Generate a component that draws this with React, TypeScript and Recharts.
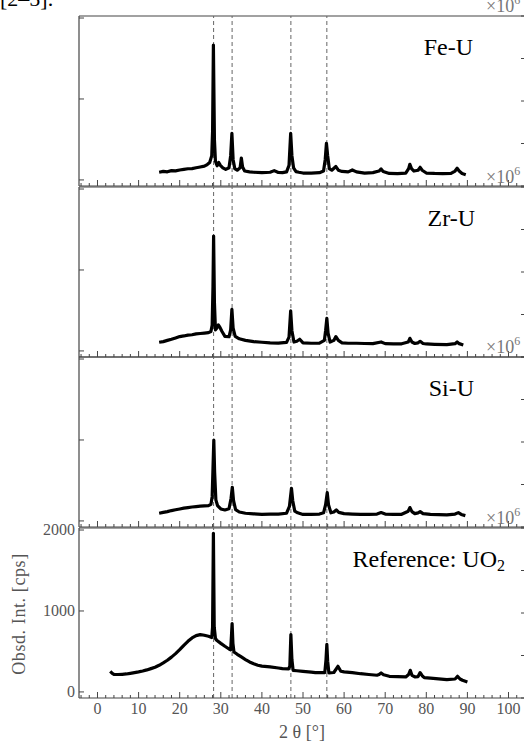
import React from "react";
import { LineChart, Line, XAxis, YAxis, ReferenceLine } from "recharts";

// [2theta (deg), intensity (cps)]
const FE_U: [number, number][] = [
  [15, 95], [16, 105], [17, 100], [18, 115], [19, 112], [20, 123], [21, 130], [22, 138], [23, 140],
  [24, 150], [25, 160], [26, 170], [26.7, 190], [27.3, 215], [27.8, 300], [28.0, 600], [28.2, 1667],
  [28.45, 500], [28.7, 230], [29.1, 175], [29.5, 215], [29.9, 180], [30.5, 150], [31.2, 130], [32.0, 150],
  [32.4, 300], [32.7, 576], [33.0, 250], [33.4, 140], [34, 120], [34.7, 150], [35.0, 270], [35.3, 160],
  [35.8, 110], [37, 100], [38, 95], [40, 90], [42, 95], [43, 115], [44, 92], [45, 90], [46, 100],
  [46.6, 180], [47.0, 576], [47.3, 300], [47.7, 150], [48.3, 103], [49, 95], [50, 85], [52, 85], [54, 90],
  [55, 110], [55.4, 250], [55.7, 453], [56.0, 300], [56.4, 140], [57, 120], [58, 165], [58.6, 120],
  [59.5, 105], [61, 100], [62, 123], [63, 100], [65, 85], [67, 90], [68.5, 110], [69, 136], [69.5, 105],
  [71, 80], [73, 78], [75, 85], [75.7, 140], [76.0, 193], [76.4, 140], [77, 110], [78, 120], [78.5, 156],
  [79, 120], [80, 85], [82, 80], [84, 78], [86, 80], [87, 110], [87.5, 144], [88, 110], [88.7, 80], [89.6, 65],
];

const ZR_U: [number, number][] = [
  [15, 107], [16, 115], [17, 130], [18, 144], [19, 160], [20, 177], [21, 185], [22, 195], [23, 200],
  [24, 210], [25, 215], [26, 220], [27, 226], [27.6, 240], [27.9, 320], [28.1, 800], [28.25, 1420],
  [28.45, 600], [28.7, 260], [29.0, 280], [29.4, 321], [29.8, 290], [30.3, 240], [31, 180], [32, 175],
  [32.4, 260], [32.7, 514], [33.0, 280], [33.5, 180], [34.5, 150], [36, 130], [38, 115], [40, 107],
  [42, 100], [44, 97], [46, 105], [46.6, 170], [47.0, 494], [47.3, 250], [47.8, 110], [48.5, 120],
  [49.2, 144], [50, 100], [52, 95], [54, 97], [55.2, 130], [55.5, 250], [55.8, 403], [56.1, 220],
  [56.6, 110], [57.5, 130], [58, 177], [58.6, 130], [59.5, 100], [61, 95], [63, 95], [65, 92], [67, 90],
  [69, 111], [70, 90], [72, 88], [74, 88], [75.6, 110], [76, 156], [76.5, 110], [77.2, 92], [78, 100],
  [78.5, 119], [79.2, 92], [80, 86], [82, 82], [85, 78], [87, 90], [87.5, 111], [88, 90], [89, 74],
];

const SI_U: [number, number][] = [
  [15, 95], [16, 105], [17, 115], [18, 128], [19, 138], [20, 148], [21, 158], [22, 165], [23, 172],
  [24, 177], [25, 182], [26, 187], [27, 189], [27.6, 205], [27.9, 300], [28.1, 650], [28.3, 1000],
  [28.5, 600], [28.8, 260], [29.2, 190], [30, 148], [31, 135], [32, 150], [32.5, 280], [32.8, 416],
  [33.1, 250], [33.6, 140], [34.5, 110], [36, 95], [38, 88], [40, 82], [42, 85], [44, 85], [46, 95],
  [46.7, 180], [47.2, 403], [47.5, 250], [48, 120], [48.7, 100], [50, 80], [52, 80], [54, 85], [55, 100],
  [55.5, 200], [55.9, 350], [56.2, 200], [56.8, 100], [57.5, 110], [58.1, 136], [58.7, 105], [60, 90],
  [62, 85], [64, 82], [66, 80], [68, 85], [69, 103], [70, 85], [72, 80], [74, 82], [75.6, 120], [76, 165],
  [76.5, 115], [77.2, 90], [78, 100], [78.5, 115], [79.2, 90], [81, 80], [83, 78], [85, 74], [87, 85],
  [87.8, 103], [88.5, 80], [89.5, 66],
];

const UO2: [number, number][] = [
  [3.1, 255], [3.6, 230], [4, 218], [5, 215], [6, 218], [7, 222], [8, 230], [9, 238], [10, 247],
  [11, 258], [12, 272], [13, 288], [14, 305], [15, 329], [16, 358], [17, 391], [18, 430], [19, 473],
  [20, 522], [21, 576], [22, 625], [23, 667], [24, 695], [25, 708], [26, 700], [27, 687], [27.8, 672],
  [28.0, 800], [28.2, 1960], [28.4, 800], [28.7, 660], [29, 638], [30, 600], [31, 564], [32, 530],
  [32.4, 520], [32.6, 700], [32.75, 844], [32.95, 600], [33.2, 494], [34, 465], [35, 432], [36, 400],
  [37, 370], [38, 348], [39, 329], [40, 318], [42, 309], [44, 296], [45, 288], [46.5, 285], [46.8, 320],
  [47.05, 708], [47.3, 400], [47.6, 267], [48.5, 262], [50, 255], [52, 245], [53, 239], [55.3, 239],
  [55.6, 400], [55.8, 588], [56.0, 380], [56.3, 235], [57.5, 240], [58.5, 317], [59.2, 255], [60, 247],
  [62, 239], [64, 225], [66, 215], [68, 206], [68.5, 215], [69, 235], [69.6, 212], [71, 193], [73, 188],
  [75, 185], [75.7, 215], [76.1, 267], [76.5, 205], [77.3, 185], [78, 190], [78.5, 239], [79, 200],
  [79.5, 177], [81, 170], [83, 162], [85, 152], [87, 160], [87.6, 193], [88.2, 160], [88.8, 144], [90, 123],
];

const X_TICKS = [
  -4, -2, 0, 2, 4, 6, 8, 10, 12, 14, 16, 18, 20, 22, 24, 26, 28, 30, 32, 34, 36, 38, 40, 42, 44, 46, 48,
  50, 52, 54, 56, 58, 60, 62, 64, 66, 68, 70, 72, 74, 76, 78, 80, 82, 84, 86, 88, 90, 92, 94, 96, 98,
  100, 102, 104,
];
const X_LABELS = [0, 10, 20, 30, 40, 50, 60, 70, 80, 90, 100];
const LEFT_TICKS = [0, 1000, 2000];
const RIGHT_TICKS = [0, 1, 2, 3, 4];
const PEAKS = [28.25, 32.75, 47.05, 55.8];

const AXIS = "#444";
const GREY_TXT = "#555";
const SERIF = "'Liberation Serif', 'DejaVu Serif', serif";
const PANEL_H = 170;
const LEFT_W = 79;
const RIGHT_W = 13;

const panels = [
  { name: "Fe-U", data: FE_U, top: 16, labelX: 473 },
  { name: "Zr-U", data: ZR_U, top: 187, labelX: 475 },
  { name: "Si-U", data: SI_U, top: 357, labelX: 474 },
  { name: "Reference: UO", sub: "2", data: UO2, top: 528, labelX: 505 },
];

function Panel({ data, top, bottom }: { data: [number, number][]; top: number; bottom: boolean }) {
  const rows = data.map(([t, v]) => ({ t, v }));
  const mTop = 12;
  const xH = bottom ? 46 : 4;

  const xTick = (props: any) => {
    const { x, y, payload } = props;
    const major = payload.value % 10 === 0;
    return (
      <g>
        <line x1={x} x2={x} y1={y} y2={y - (major ? 6 : 3)} stroke={AXIS} strokeWidth={1} />
        {bottom && X_LABELS.includes(payload.value) && (
          <text x={x} y={y + 16} textAnchor="middle" fontSize={16} fill={GREY_TXT} fontFamily={SERIF}>
            {payload.value}
          </text>
        )}
      </g>
    );
  };

  const leftTick = (props: any) => {
    const { x, y, payload } = props;
    return (
      <g>
        <line x1={x} x2={x + 5} y1={y} y2={y} stroke={AXIS} strokeWidth={1} />
        {bottom && (
          <text x={x - 4} y={y + 5} textAnchor="end" fontSize={16} fill={GREY_TXT} fontFamily={SERIF}>
            {payload.value}
          </text>
        )}
      </g>
    );
  };

  const rightTick = (props: any) => {
    const { x, y } = props;
    return <line x1={x} x2={x - 6} y1={y} y2={y} stroke={AXIS} strokeWidth={1} />;
  };

  return (
    <div style={{ position: "absolute", left: 0, top: top - mTop }}>
      <LineChart
        width={LEFT_W + 448 + RIGHT_W}
        height={PANEL_H + mTop + xH}
        data={rows}
        margin={{ top: mTop, bottom: 0, left: 0, right: 0 }}
      >
        <XAxis
          dataKey="t"
          type="number"
          domain={[-4.5, 104.5]}
          ticks={X_TICKS}
          interval={0}
          height={xH}
          tickSize={0}
          tickMargin={0}
          tickLine={false}
          axisLine={{ stroke: AXIS, strokeWidth: 1.2 }}
          tick={xTick}
          allowDataOverflow
        />
        <YAxis
          yAxisId="left"
          type="number"
          domain={[-75, 2025]}
          ticks={LEFT_TICKS}
          interval={0}
          width={LEFT_W}
          tickSize={0}
          tickMargin={0}
          tickLine={false}
          axisLine={{ stroke: AXIS, strokeWidth: 1.2 }}
          tick={leftTick}
          allowDataOverflow
        />
        <YAxis
          yAxisId="right"
          orientation="right"
          type="number"
          domain={[0, 4]}
          ticks={RIGHT_TICKS}
          interval={0}
          width={RIGHT_W}
          tickSize={0}
          tickMargin={0}
          tickLine={false}
          axisLine={false}
          tick={rightTick}
          allowDataOverflow
        />
        <ReferenceLine yAxisId="left" y={2025} stroke={AXIS} strokeWidth={1.2} />
        {PEAKS.map((p) => (
          <ReferenceLine key={p} yAxisId="left" x={p} stroke="#666" strokeWidth={1} strokeDasharray="4 3" />
        ))}
        <Line
          yAxisId="left"
          type="linear"
          dataKey="v"
          stroke="#000"
          strokeWidth={3.2}
          strokeLinejoin="round"
          dot={false}
          isAnimationActive={false}
        />
      </LineChart>
    </div>
  );
}

export default function App() {
  return (
    <div
      style={{
        position: "absolute",
        left: 0,
        top: 0,
        width: 524,
        height: 742,
        overflow: "hidden",
        background: "#fff",
      }}
    >
      {panels.map((p, i) => (
        <Panel key={p.name} data={p.data} top={p.top} bottom={i === panels.length - 1} />
      ))}
      <svg width={524} height={742} style={{ position: "absolute", left: 0, top: 0, pointerEvents: "none" }}>
        <text x={0} y={6} fontSize={22} fontFamily={SERIF} fill="#000">
          [2–5].
        </text>
        {panels.map((p) => (
          <g key={p.name}>
            <text x={p.labelX} y={p.top + 39} textAnchor="end" fontSize={24} fontFamily={SERIF} fill="#000">
              {p.name}
              {p.sub && (
                <tspan fontSize={16} dy={4}>
                  {p.sub}
                </tspan>
              )}
            </text>
            <text x={486} y={p.top - 4} fontSize={18} fontFamily={SERIF} fill="#777">
              ×10
              <tspan fontSize={12} dy={-8}>
                6
              </tspan>
            </text>
          </g>
        ))}
        <text
          transform="translate(25,614) rotate(-90)"
          textAnchor="middle"
          fontSize={18}
          letterSpacing={0.6}
          fontFamily={SERIF}
          fill={GREY_TXT}
        >
          Obsd. Int. [cps]
        </text>
        <text x={302} y={738} textAnchor="middle" fontSize={18} fontFamily={SERIF} fill={GREY_TXT}>
          2 θ [°]
        </text>
      </svg>
    </div>
  );
}
